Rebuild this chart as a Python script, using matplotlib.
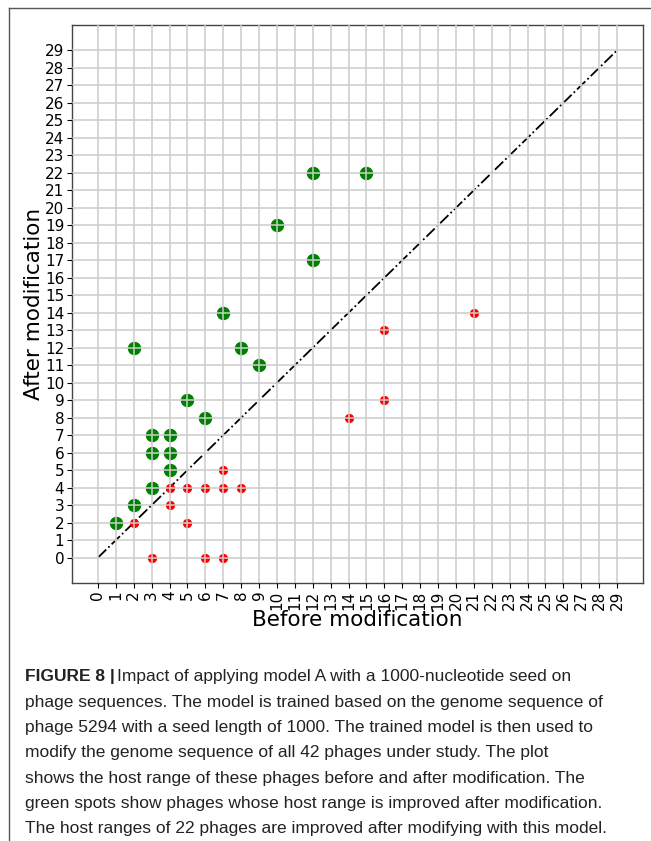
import matplotlib.pyplot as plt
from matplotlib.lines import Line2D

# host range before / after modification
green_before = [1, 2, 2, 3, 3, 3, 4, 4, 4, 5, 6, 7, 8, 9, 10, 12, 12, 15]
green_after = [2, 3, 12, 4, 6, 7, 5, 6, 7, 9, 8, 14, 12, 11, 19, 17, 22, 22]
red_before = [2, 3, 4, 4, 5, 5, 6, 6, 7, 7, 7, 8, 14, 16, 16, 21]
red_after = [2, 0, 3, 4, 2, 4, 0, 4, 0, 4, 5, 4, 8, 9, 13, 14]
ticks = list(range(30))

caption_lines = [
    "phage sequences. The model is trained based on the genome sequence of",
    "phage 5294 with a seed length of 1000. The trained model is then used to",
    "modify the genome sequence of all 42 phages under study. The plot",
    "shows the host range of these phages before and after modification. The",
    "green spots show phages whose host range is improved after modification.",
    "The host ranges of 22 phages are improved after modifying with this model.",
]

fig = plt.figure(figsize=(6.51, 8.41), dpi=100)
ax = fig.add_axes([72/651, 1-583/841, (643-72)/651, (583-25)/841])

ax.plot(ticks, ticks, color='black', linestyle='-.', linewidth=1.3, zorder=2)
ax.scatter(green_before, green_after, s=75, color='green', zorder=2)
ax.scatter(red_before, red_after, s=32, color='red', zorder=2)

ax.set_xticks(ticks)
ax.set_yticks(ticks)
ax.set_xticklabels([str(t) for t in ticks], rotation=90, fontsize=11)
ax.set_yticklabels([str(t) for t in ticks], fontsize=11)
ax.set_xlim(-1.45, 30.45)
ax.set_ylim(-1.45, 30.45)
ax.grid(True, color='#cccccc', linewidth=1.1, zorder=3)
ax.set_axisbelow(False)
ax.tick_params(length=3.5, width=0.8, pad=2)
for sp in ax.spines.values():
    sp.set_color('#444444')
    sp.set_linewidth(1.0)
ax.set_xlabel('Before modification', fontsize=15.5, labelpad=0)
ax.set_ylabel('After modification', fontsize=15.5, labelpad=1)

# outer frame of the figure panel
fig.add_artist(Line2D([9/651, 1], [1-8/841, 1-8/841], color='#555555', linewidth=1.0))
fig.add_artist(Line2D([9/651, 9/651], [0, 1-8/841], color='#555555', linewidth=1.0))

cap_font = ['Liberation Sans Narrow', 'Liberation Sans', 'DejaVu Sans']
y0 = 1 - 677/841
dy = 25.3/841
t1 = fig.text(25/651, y0, 'FIGURE 8 |', fontsize=12.5, fontweight='bold',
              family=cap_font, va='center', color='#222222')
fig.canvas.draw()
bb = t1.get_window_extent().transformed(fig.transFigure.inverted())
fig.text(bb.x1 + 2/651, y0, 'Impact of applying model A with a 1000-nucleotide seed on',
         fontsize=12.5, family=cap_font, va='center', color='#222222')
for i, line in enumerate(caption_lines):
    fig.text(25/651, y0 - (i+1)*dy, line, fontsize=12.5, family=cap_font,
             va='center', color='#222222')

plt.savefig('out.png', dpi=100)
